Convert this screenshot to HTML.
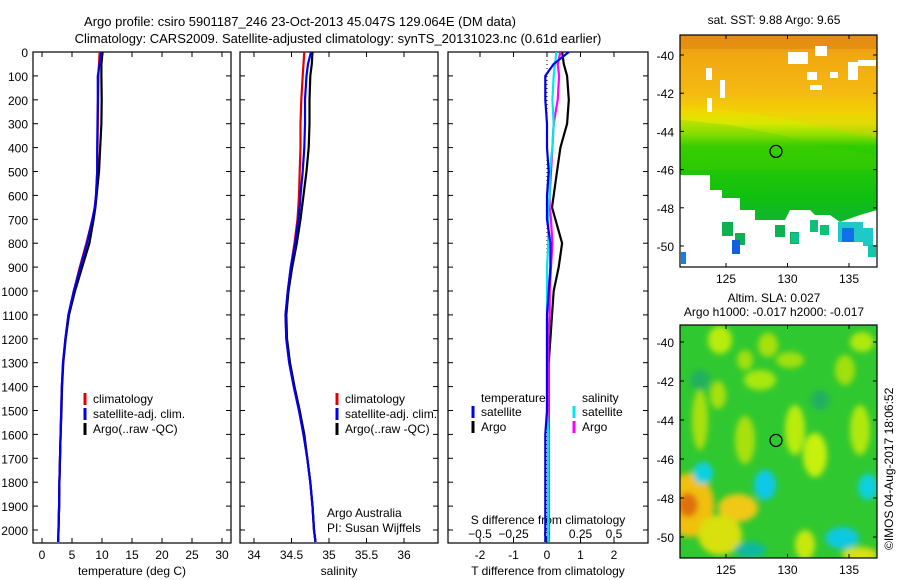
<!DOCTYPE html>
<html><head><meta charset="utf-8"><style>
body{margin:0;background:#fff}
svg{display:block;font-family:"Liberation Sans",sans-serif;font-size:12px}
</style></head><body>
<svg id="c" width="900" height="580">
<text x="300" y="26" text-anchor="middle" font-size="13">Argo profile: csiro 5901187_246 23-Oct-2013 45.047S 129.064E (DM data)</text>
<text x="338" y="43" text-anchor="middle" font-size="13">Climatology: CARS2009. Satellite-adjusted climatology: synTS_20131023.nc (0.61d earlier)</text>
<g id="maps"></g>
<g id="plots"></g>
<text transform="translate(893,550) rotate(-90)" font-size="12">©IMOS 04-Aug-2017 18:06:52</text>
</svg>
<script>
// ---- data ----
const depths=[0,50,100,200,300,400,500,600,650,700,800,900,1000,1100,1200,1300,1400,1500,1600,1700,1800,1900,2000,2050];
const tempClim=[9.6,9.5,9.4,9.35,9.3,9.25,9.2,9.0,8.8,8.4,7.4,6.3,5.3,4.4,3.9,3.5,3.3,3.2,3.1,3.0,2.9,2.85,2.75,2.7];
const tempSat=[9.9,9.6,9.3,9.3,9.25,9.2,9.2,9.0,8.8,8.4,7.5,6.4,5.3,4.4,3.9,3.5,3.3,3.2,3.1,3.0,2.9,2.85,2.75,2.7];
const tempArgo=[10.1,9.9,9.9,9.95,9.9,9.7,9.5,9.1,8.9,8.6,7.9,6.7,5.5,4.5,3.95,3.55,3.35,3.25,3.1,3.0,2.9,2.85,2.75,2.7];
const salClim=[34.67,34.66,34.65,34.63,34.62,34.62,34.61,34.60,34.59,34.58,34.54,34.49,34.45,34.42,34.43,34.47,34.53,34.60,34.66,34.71,34.75,34.78,34.80,34.82];
const salSat=[34.76,34.72,34.70,34.68,34.68,34.67,34.65,34.62,34.61,34.59,34.55,34.49,34.45,34.42,34.43,34.47,34.53,34.60,34.66,34.71,34.75,34.78,34.80,34.82];
const salArgo=[34.78,34.77,34.75,34.74,34.74,34.73,34.70,34.66,34.64,34.62,34.57,34.51,34.46,34.43,34.44,34.48,34.54,34.61,34.67,34.71,34.75,34.78,34.80,34.82];
const dTsat=[0.65,0.2,-0.05,-0.05,0.0,0.0,0.05,0.0,0.0,0.0,0.1,0.1,0.05,0.0,0.0,0.0,0.0,0.0,-0.05,-0.05,-0.05,-0.05,-0.05,-0.05];
const dTargo=[0.45,0.5,0.6,0.65,0.6,0.4,0.3,0.2,0.15,0.25,0.45,0.35,0.2,0.15,0.1,0.05,0.05,0.05,0.05,0.05,0.05,0.05,0.05,0.05];
const dSsat=[0.07,0.06,0.05,0.04,0.05,0.04,0.02,0.02,0.01,0.01,0.01,0.0,0.0,0.0,0.0,0.0,0.0,0.0,0.01,0.01,0.01,0.01,0.01,0.01];
const dSargo=[0.1,0.08,0.09,0.08,0.05,0.04,0.03,0.02,0.02,0.03,0.04,0.03,0.02,0.02,0.01,0.01,0.01,0.01,0.01,0.01,0.01,0.01,0.01,0.01];
const depthTicks=[0,100,200,300,400,500,600,700,800,900,1000,1100,1200,1300,1400,1500,1600,1700,1800,1900,2000];
const tempTicks=[0,5,10,15,20,25,30];
const salTicks=[34,34.5,35,35.5,36];
const dTTicks=[-2,-1,0,1,2];
const dSTicks=[-0.5,-0.25,0,0.25,0.5];
const latTicks=[-40,-42,-44,-46,-48,-50];
const lonTicks=[125,130,135];

const NS='http://www.w3.org/2000/svg';
function mk(tag,attrs,parent,txt){const e=document.createElementNS(NS,tag);for(const k in attrs)e.setAttribute(k,attrs[k]);if(txt!==undefined)e.textContent=txt;parent.appendChild(e);return e;}
const plots=document.getElementById('plots');
const top0=52,bot=543;
const yD=d=>top0+d*(530-top0)/2000;
function lin(d0,d1,r0,r1){return v=>r0+(v-d0)*(r1-r0)/(d1-d0);}

function panel(name,x0,x1,xs,ticks,xlabel,fmt){
  const g=mk('g',{},plots);
  
  
  const fr=mk('rect',{x:x0,y:top0,width:x1-x0,height:bot-top0,fill:'none',stroke:'#000','stroke-width':1.2},g);
  
  
  depthTicks.forEach(d=>{const y=yD(d);mk('line',{x1:x0,x2:x0+5,y1:y,y2:y,stroke:'#000'},g);mk('line',{x1:x1,x2:x1-5,y1:y,y2:y,stroke:'#000'},g);});
  ticks.forEach(t=>{const x=xs(t);mk('line',{x1:x,x2:x,y1:bot,y2:bot-5,stroke:'#000'},g);mk('line',{x1:x,x2:x,y1:top0,y2:top0+5,stroke:'#000'},g);
    const tl=mk('text',{x:x,y:bot+16,'text-anchor':'middle'},g,fmt?fmt(t):String(t));
    
    });
  const xl=mk('text',{x:(x0+x1)/2,y:bot+32,'text-anchor':'middle'},g,xlabel);
  
  
  return g;
}
function line(g,xs,vals,color,name,w){
  const pts=vals.map((v,i)=>xs(v).toFixed(1)+','+yD(depths[i]).toFixed(1)).join(' ');
  const p=mk('polyline',{points:pts,fill:'none',stroke:color,'stroke-width':w||2.2},g);
  
  
}
function legend(g,x,y,items){
  items.forEach((it,i)=>{const yy=y+i*15;
    mk('line',{x1:x,x2:x,y1:yy-10,y2:yy+2,stroke:it[1],'stroke-width':3},g);
    const t=mk('text',{x:x+8,y:yy},g,it[0]);
    
    });
}
depthTicks.forEach(d=>{const t=mk('text',{x:28,y:yD(d)+5,'text-anchor':'end'},plots,String(d));
  
  });

const xT=lin(0,30,42,222);
const g1=panel('temperature-panel',33,231,xT,tempTicks,'temperature (deg C)');
line(g1,xT,tempClim,'#e00000','temp-climatology-line');
line(g1,xT,tempArgo,'#000','temp-argo-line');
line(g1,xT,tempSat,'#0000ee','temp-satellite-line');
legend(g1,85,403,[['climatology','#e00000'],['satellite-adj. clim.','#0000ee'],['Argo(..raw -QC)','#000']]);

const xS=lin(34,36,254,404);
const g2=panel('salinity-panel',240,438,xS,salTicks,'salinity');
line(g2,xS,salClim,'#e00000','sal-climatology-line');
line(g2,xS,salArgo,'#000','sal-argo-line');
line(g2,xS,salSat,'#0000ee','sal-satellite-line');
legend(g2,337,403,[['climatology','#e00000'],['satellite-adj. clim.','#0000ee'],['Argo(..raw -QC)','#000']]);
mk('text',{x:327,y:517},g2,'Argo Australia');
mk('text',{x:327,y:532},g2,'PI: Susan Wijffels');

const xdT=lin(0,1,547,580.5);
const xdS=lin(0,0.25,547,580.5);
const g3=panel('difference-panel',448,648,xdT,dTTicks,'T difference from climatology');
mk('line',{x1:547,x2:547,y1:top0,y2:bot,stroke:'#000','stroke-dasharray':'1,3'},g3);
dSTicks.forEach(t=>{const x=xdS(t);const tl=mk('text',{x:x,y:538,'text-anchor':'middle'},g3,t===0?'0':String(t).replace('-','\u2212'));
  
  });
mk('text',{x:548,y:524,'text-anchor':'middle'},g3,'S difference from climatology');
line(g3,xdT,dTargo,'#000','t-diff-argo-line');
line(g3,xdS,dSargo,'#ff00ff','s-diff-argo-line');
line(g3,xdS,dSsat,'#00e8e8','s-diff-satellite-line');
line(g3,xdT,dTsat,'#0000ee','t-diff-satellite-line');
mk('text',{x:481,y:402},g3,'temperature');
mk('text',{x:582,y:402},g3,'salinity');
legend(g3,473,416,[['satellite','#0000ee'],['Argo','#000']]);
legend(g3,574,416,[['satellite','#00e8e8'],['Argo','#ff00ff']]);

// ---- maps ----
const maps=document.getElementById('maps');
function mapFrame(name){
  const g=mk('g',{},maps);
  
  
  return g;
}
function mapAxes(g,y0,y1,latTop,latStep){
  const latY=l=>latTop+(-40-l)*latStep;
  const lonX=l=>726+(l-125)*12.3;
  mk('circle',{cx:lonX(129.064),cy:latY(-45.047),r:6,fill:'none',stroke:'#000','stroke-width':1.3},g);
  mk('rect',{x:680,y:y0,width:197,height:y1-y0,fill:'none',stroke:'#000','stroke-width':1.2},g);
  latTicks.forEach(l=>{const y=latY(l);mk('line',{x1:680,x2:684,y1:y,y2:y,stroke:'#000'},g);mk('line',{x1:877,x2:873,y1:y,y2:y,stroke:'#000'},g);
    const t=mk('text',{x:674,y:y+5,'text-anchor':'end'},g,String(l));
    
    });
  lonTicks.forEach(l=>{const x=lonX(l);mk('line',{x1:x,x2:x,y1:y1,y2:y1-4,stroke:'#000'},g);mk('line',{x1:x,x2:x,y1:y0,y2:y0+4,stroke:'#000'},g);
    const t=mk('text',{x:x,y:y1+16,'text-anchor':'middle'},g,String(l));
    
    });
}
const defs=mk('defs',{},maps);
const m1=mapFrame('sst-map');
mk('text',{x:774,y:24,'text-anchor':'middle'},m1,'sat. SST: 9.88  Argo: 9.65');
const lg=mk('linearGradient',{id:'sst',x1:0,y1:0,x2:0,y2:1},defs);
[[0,'#e08818'],[0.1,'#f0a010'],[0.25,'#f4b810'],[0.33,'#f0d800'],[0.38,'#d8e800'],[0.43,'#90e000'],[0.48,'#30cc00'],[0.7,'#10c010'],[0.85,'#10b040'],[1,'#10a850']].forEach(s=>mk('stop',{offset:s[0],'stop-color':s[1]},lg));
mk('rect',{x:680,y:35,width:197,height:232,fill:'url(#sst)'},m1);
mk('polygon',{points:'680,105 730,110 780,118 830,128 877,138 877,35 680,35',fill:'#f4c010',opacity:0.3},m1);
mk('polygon',{points:'680,120 730,125 780,135 830,148 877,155 877,170 680,170',fill:'#50d000',opacity:0.25},m1);
mk('rect',{x:680,y:35,width:197,height:14,fill:'#e08010',opacity:0.5},m1);
mk('polygon',{points:'680,175 710,175 710,190 722,190 722,198 740,198 740,210 755,210 755,220 785,220 790,210 810,210 815,215 830,215 840,222 860,215 877,210 877,267 680,267',fill:'#fff'},m1);
[[788,52,20,12],[815,46,12,10],[706,68,6,12],[720,80,5,18],[807,72,10,8],[830,72,8,6],[848,62,10,18],[858,60,18,6],[707,98,5,14],[810,85,12,5]].forEach(r=>mk('rect',{x:r[0],y:r[1],width:r[2],height:r[3],fill:'#fff'},m1));
[[722,222,11,14,'#10b050'],[735,233,10,12,'#10b050'],[775,225,10,12,'#10b050'],[790,232,9,12,'#10b050'],[810,220,8,12,'#10c078'],[820,225,9,10,'#10c078'],[838,222,25,20,'#20c8c8'],[842,228,12,14,'#1070e8'],[863,228,10,18,'#20c8c8'],[732,240,8,14,'#1060e0'],[791,233,8,10,'#10c090'],[681,252,5,12,'#1080f0'],[868,245,8,12,'#10c8a8']].forEach(r=>mk('rect',{x:r[0],y:r[1],width:r[2],height:r[3],fill:r[4]},m1));
mapAxes(m1,35,267,55,19.1);

const m2=mapFrame('sla-map');
mk('text',{x:774,y:302,'text-anchor':'middle'},m2,'Altim. SLA: 0.027');
mk('text',{x:774,y:316,'text-anchor':'middle'},m2,'Argo h1000: -0.017 h2000: -0.017');
const flt=mk('filter',{id:'blur',x:'-50%',y:'-50%',width:'200%',height:'200%'},defs);
mk('feGaussianBlur',{stdDeviation:3},flt);
const cp=mk('clipPath',{id:'m2c'},defs);
mk('rect',{x:680,y:325,width:197,height:233},cp);
mk('rect',{x:680,y:325,width:197,height:233,fill:'#30c830'},m2);
const bg=mk('g',{filter:'url(#blur)','clip-path':'url(#m2c)'},m2);
[[720,340,12,14,'#b8ec10'],[745,360,8,10,'#a0e010'],[700,420,8,30,'#a8e010'],[760,380,16,10,'#a8e810'],[795,430,10,25,'#b8ec10'],[815,455,12,22,'#c8f010'],[790,360,14,8,'#a0e010'],[845,370,10,15,'#a0e010'],[860,430,10,25,'#b0e810'],[690,505,24,32,'#f0c010'],[688,505,10,12,'#e07010'],[738,508,20,14,'#f0c818'],[720,535,22,20,'#d8e010'],[805,545,10,15,'#c8e810'],[860,555,18,8,'#d8e010'],[862,342,12,10,'#b0e810'],[745,440,10,24,'#a8e010'],[768,345,10,12,'#a8e010'],[718,395,8,14,'#a8e010'],
 [703,473,10,11,'#10d0e0'],[765,485,11,15,'#10c8e8'],[868,487,10,13,'#10d0e0'],[842,538,17,11,'#10c8e0'],[700,380,10,10,'#20b060'],[820,400,10,10,'#20b060'],[750,550,16,8,'#10b8a0']].forEach(b=>mk('ellipse',{cx:b[0],cy:b[1],rx:b[2],ry:b[3],fill:b[4]},bg));
mapAxes(m2,325,558,342,19.5);
</script>
</body></html>
